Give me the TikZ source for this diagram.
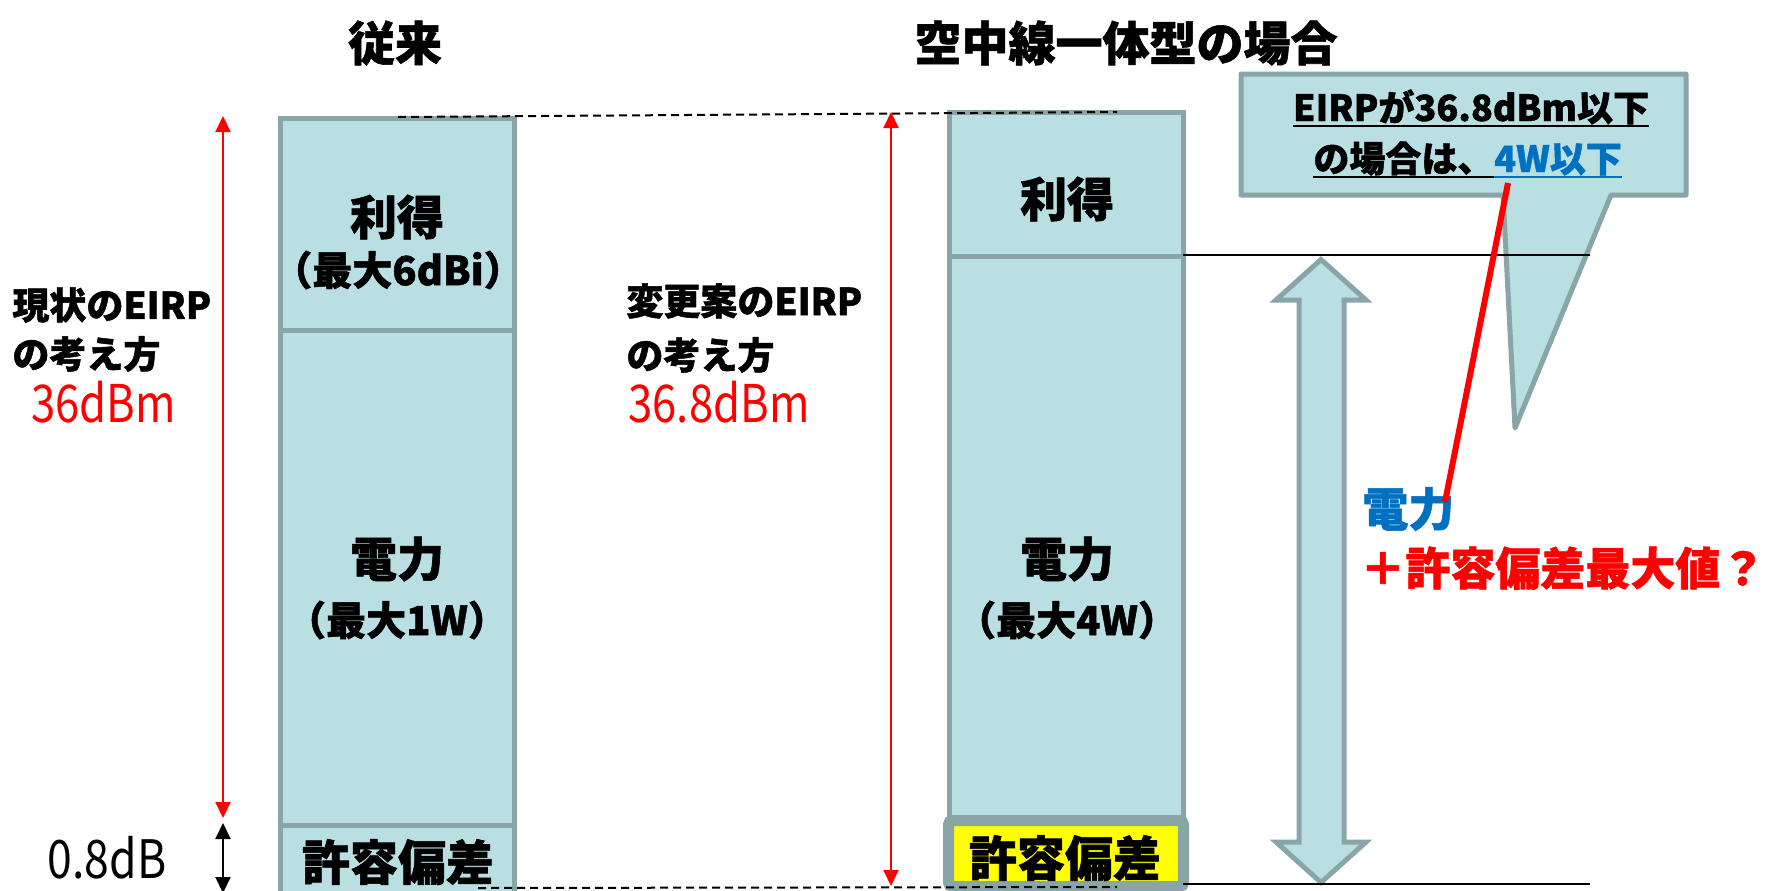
\documentclass[tikz,border=0pt]{standalone}
\usepackage{fontspec}
\setmainfont{Noto Sans CJK JP}[BoldFeatures={FakeBold=1.2}]
\newfontfamily\numfont{Noto Sans CJK JP}[FakeStretch=0.84]
\usetikzlibrary{arrows.meta}
\definecolor{boxfill}{HTML}{B9DFE2}
\definecolor{boxline}{HTML}{8AA5A7}
\definecolor{myred}{HTML}{FF0000}
\definecolor{myblue}{HTML}{0070C0}
\definecolor{hl}{HTML}{FFFF00}
\tikzset{
  panel/.style={fill=boxfill, draw=boxline, line width=2.5pt},
  big/.style={inner sep=0pt, font=\bfseries\fontsize{23.5}{27}\selectfont},
  sub/.style={inner sep=0pt, font=\bfseries\fontsize{20}{24}\selectfont},
  side/.style={inner sep=0pt, anchor=west, font=\bfseries\fontsize{18.5}{22}\selectfont},
  val/.style={inner sep=0pt, anchor=west, text=myred, font=\numfont\fontsize{26}{30}\selectfont},
  cl/.style={inner sep=0pt, font=\bfseries\fontsize{18}{22}\selectfont},
  redarr/.style={draw=myred, line width=1pt, {Triangle[width=7.5pt,length=8pt]}-{Triangle[width=7.5pt,length=8pt]}},
  blkarr/.style={draw=black, line width=1pt, {Triangle[width=7.5pt,length=8pt]}-{Triangle[width=7.5pt,length=8pt]}},
  guide/.style={draw=black, line width=1pt, dash pattern=on 4pt off 2.5pt},
  hline/.style={draw=black, line width=0.9pt}
}
\begin{document}
\begin{tikzpicture}[x=0.5pt,y=-0.5pt]
\useasboundingbox (0,0) rectangle (1770,890);
\clip (0,0) rectangle (1770,890);

% titles
\node[big] (t1) at (395,43) {従来};
\node[big] (t2) at (1126,43) {空中線一体型の場合};

% left column
\path[panel] (280.5,118) rectangle (514.5,330);
\path[panel] (280.5,330) rectangle (514.5,825);
\path[panel] (280.5,825) rectangle (514.5,905);
\node[big] (lg) at (397,217) {利得};
\node[sub] (lgs) at (398,270) {（最大6dBi）};
\node[big] (lp) at (397,559) {電力};
\node[sub] (lps) at (397,620) {（最大1W）};
\node[big, font=\bfseries\fontsize{24}{28}\selectfont] (lt) at (398,862) {許容偏差};

% right column
\path[panel] (949,112.5) rectangle (1183,256);
\path[panel] (949,256) rectangle (1183,820);
\path[fill=hl, draw=boxline, line width=5.5pt, rounded corners=2pt] (948.5,820.5) rectangle (1183.5,886.5);
\node[big] (rg) at (1067,199) {利得};
\node[big] (rp) at (1067,559) {電力};
\node[sub] (rps) at (1067,620) {（最大4W）};
\node[big, font=\bfseries\fontsize{24}{28}\selectfont] (rt) at (1065,858) {許容偏差};

% dashed guides
\coordinate (dA) at (398,117);
\coordinate (dB) at (1117,112);
\coordinate (dC) at (478,888);
\coordinate (dD) at (1117,887);
\draw[guide] (dA) -- (dB);
\draw[guide] (dC) -- (dD);

% left side labels and arrows
\node[side] (s1) at (12,305) {現状のEIRP};
\node[side] (s2) at (12,354) {の考え方};
\node[val] (s3) at (31,402) {36dBm};
\coordinate (la1) at (223,116);
\coordinate (la2) at (223,818);
\draw[redarr] (la1) -- (la2);
\coordinate (lb1) at (223,823);
\coordinate (lb2) at (223,893);
\draw[blkarr] (lb1) -- (lb2);
\node[inner sep=0pt, font=\numfont\fontsize{26.5}{30}\selectfont] (tol) at (107,858) {0.8dB};

% middle labels and arrow
\node[side] (m1) at (626,301) {変更案のEIRP};
\node[side] (m2) at (626,355) {の考え方};
\node[val] (m3) at (628,402) {36.8dBm};
\coordinate (ma1) at (891,112);
\coordinate (ma2) at (891,886);
\draw[redarr] (ma1) -- (ma2);

% callout
\draw[panel, line join=round] (1241,74) -- (1686,74) -- (1686,195) -- (1611,195) -- (1515,428) -- (1503,195) -- (1241,195) -- cycle;
\node[cl, anchor=base] (l1) at (1471,121) {EIRPが36.8dBm以下};
\node[cl, anchor=base west] (l2a) at (1313,172) {の場合は、};
\node[cl, anchor=base west, text=myblue] (l2b) at (l2a.base east) {4W以下};
\coordinate (u1) at (0,126);
\coordinate (u2) at (0,177);
\draw[black, line width=1pt] (l1.west |- u1) -- (l1.east |- u1);
\draw[black, line width=1pt] (l2a.west |- u2) -- (l2a.east |- u2);
\draw[myblue, line width=1pt] (l2b.west |- u2) -- (l2b.east |- u2);

% block double arrow
\draw[panel, line join=miter] (1321,259.5) -- (1366,300) -- (1344,300) -- (1344,842) -- (1366,842) -- (1321,882.5) -- (1276,842) -- (1299,842) -- (1299,300) -- (1276,300) -- cycle;

% horizontal reference lines
\coordinate (h1a) at (1183,255);
\coordinate (h1b) at (1590,255);
\coordinate (h2a) at (1183,884);
\coordinate (h2b) at (1590,884);
\draw[hline] (h1a) -- (h1b);
\draw[hline] (h2a) -- (h2b);

% right notes
\node[inner sep=0pt, anchor=west, text=myblue, font=\bfseries\fontsize{23}{27}\selectfont] (n1) at (1362,509) {電力};
\node[inner sep=0pt, anchor=west, text=myred, font=\bfseries\fontsize{22.5}{27}\selectfont] (n2) at (1360,568) {＋許容偏差最大値？};
\coordinate (r1) at (1508,183);
\coordinate (r2) at (1445,502);
\draw[myred, line width=3pt] (r1) -- (r2);
\end{tikzpicture}
\end{document}
